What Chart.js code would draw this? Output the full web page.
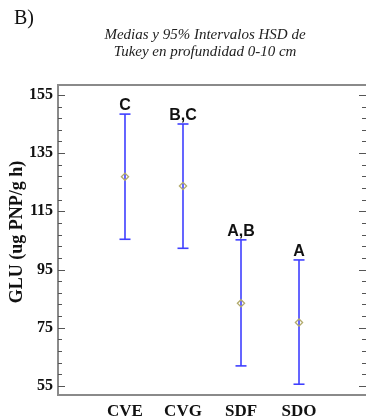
<!DOCTYPE html>
<html>

<head>
    <meta charset="utf-8" />
    <title>GLU Tukey HSD 0-10 cm</title>
    <script src="https://cdn.jsdelivr.net/npm/chart.js/dist/chart.umd.js"></script>
    <style>
        body {
            margin: 0;
            background: #ffffff;
        }

        #myChart {
            display: block;
        }
    </style>
</head>

<body>
    <canvas id="myChart" width="366" height="418" style="width:366px;height:418px"></canvas>
    <script>
        // data
        const categories = ['CVE', 'CVG', 'SDF', 'SDO'];
        const means = [126.9, 123.7, 83.4, 76.8];
        const lower = [105.4, 102.3, 61.9, 55.6];
        const upper = [148.4, 145.0, 105.2, 98.3];
        const groups = ['C', 'B,C', 'A,B', 'A'];
        const yTicks = [55, 75, 95, 115, 135, 155];

        const blue = '#3f3fff';
        const frame = '#8a8a8a';

        // one line dataset per interval, caps drawn as 'line' points
        const intervalSets = categories.map(function (c, i) {
            return {
                type: 'line',
                label: c,
                data: [{ x: i, y: lower[i] }, { x: i, y: upper[i] }],
                borderColor: blue,
                borderWidth: 1.6,
                pointStyle: 'line',
                pointRadius: 5.5,
                pointBorderColor: blue,
                pointBorderWidth: 1.6,
                order: 2
            };
        });

        const meanSet = {
            type: 'scatter',
            label: 'Media',
            data: categories.map(function (c, i) { return { x: i, y: means[i] }; }),
            pointStyle: 'rectRot',
            pointRadius: 3.6,
            borderColor: '#b3ab6c',
            backgroundColor: 'rgba(0,0,0,0)',
            borderWidth: 1.3,
            order: 1
        };

        const extras = {
            id: 'extras',
            afterDraw(chart) {
                const ctx = chart.ctx;
                const area = chart.chartArea;
                const y = chart.scales.y;
                const x = chart.scales.x;
                ctx.save();

                // inward ticks on both sides
                ctx.strokeStyle = '#555555';
                ctx.lineWidth = 1;
                for (let v = yTicks[0]; v <= y.max; v += 4) {
                    const py = Math.round(y.getPixelForValue(v)) + 0.5;
                    const major = yTicks.indexOf(v) >= 0;
                    const len = major ? 7 : 4;
                    ctx.beginPath();
                    ctx.moveTo(area.left, py);
                    ctx.lineTo(area.left + len, py);
                    ctx.moveTo(area.right, py);
                    ctx.lineTo(area.right - len, py);
                    ctx.stroke();
                }

                // top frame line
                ctx.strokeStyle = frame;
                ctx.lineWidth = 2;
                ctx.beginPath();
                ctx.moveTo(area.left, area.top);
                ctx.lineTo(area.right, area.top);
                ctx.stroke();

                // group letters above each interval
                ctx.fillStyle = '#111111';
                ctx.font = 'bold 16px "Liberation Sans"';
                ctx.textAlign = 'center';
                ctx.textBaseline = 'alphabetic';
                groups.forEach(function (g, i) {
                    ctx.fillText(g, x.getPixelForValue(i), y.getPixelForValue(upper[i]) - 4);
                });

                // panel letter and title
                ctx.textAlign = 'left';
                ctx.textBaseline = 'middle';
                ctx.font = '20px "Liberation Serif"';
                ctx.fillText('B)', 14, 19);
                ctx.textAlign = 'center';
                ctx.fillStyle = '#222222';
                ctx.font = 'italic 15px "Liberation Serif"';
                ctx.fillText('Medias y 95% Intervalos HSD de', 205, 35);
                ctx.fillText('Tukey en profundidad 0-10 cm', 205, 52);

                // y axis title
                ctx.translate(17, 232);
                ctx.rotate(-Math.PI / 2);
                ctx.fillStyle = '#111111';
                ctx.font = 'bold 18px "Liberation Serif"';
                ctx.fillText('GLU (ug PNP/g h)', 0, 0);
                ctx.restore();
            }
        };

        const config = {
            data: { datasets: intervalSets.concat([meanSet]) },
            options: {
                responsive: false,
                devicePixelRatio: 1,
                animation: false,
                layout: { autoPadding: false, padding: { top: 85, left: 0, right: 0, bottom: 0 } },
                plugins: {
                    legend: { display: false },
                    tooltip: { enabled: false },
                    title: { display: false }
                },
                scales: {
                    x: {
                        type: 'linear',
                        min: -1.155,
                        max: 4.155,
                        afterBuildTicks: function (scale) {
                            scale.ticks = categories.map(function (c, i) { return { value: i }; });
                        },
                        afterFit: function (scale) { scale.height = 23; },
                        grid: { display: false, drawTicks: false },
                        border: { display: true, color: frame, width: 2 },
                        ticks: {
                            padding: 6,
                            color: '#111111',
                            font: { family: '"Liberation Serif"', size: 17, weight: 'bold' },
                            callback: function (v) { return categories[v]; }
                        }
                    },
                    y: {
                        type: 'linear',
                        min: 51.9,
                        max: 158.4,
                        afterBuildTicks: function (scale) {
                            scale.ticks = yTicks.map(function (v) { return { value: v }; });
                        },
                        afterFit: function (scale) { scale.width = 58; },
                        grid: { display: false, drawTicks: false },
                        border: { display: true, color: frame, width: 2 },
                        ticks: {
                            padding: 5,
                            color: '#111111',
                            font: { family: '"Liberation Serif"', size: 16, weight: 'bold' }
                        }
                    }
                }
            },
            plugins: [extras]
        };

        var myChart = new Chart(document.getElementById('myChart'), config);
    </script>
</body>

</html>
